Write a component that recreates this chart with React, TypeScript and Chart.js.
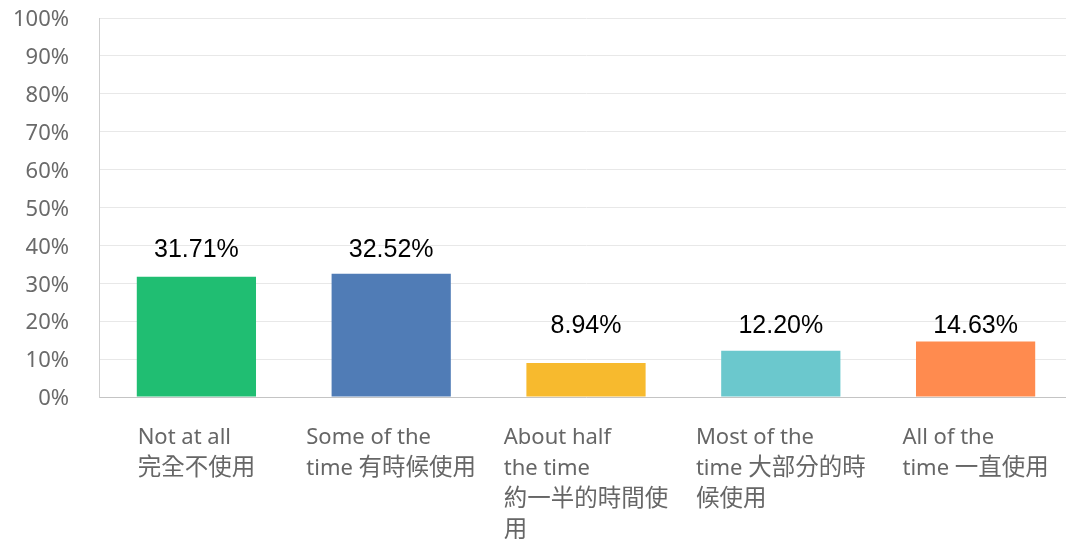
import React, { useEffect, useRef } from "react";
import { Chart, registerables } from "chart.js";

Chart.register(...registerables);

const categories: string[][] = [
  ["Not at all", "完全不使用"],
  ["Some of the", "time 有時候使用"],
  ["About half", "the time", "約一半的時間使", "用"],
  ["Most of the", "time 大部分的時", "候使用"],
  ["All of the", "time 一直使用"],
];
const values: number[] = [31.71, 32.52, 8.94, 12.2, 14.63];
const valueLabels: string[] = ["31.71%", "32.52%", "8.94%", "12.20%", "14.63%"];
const barColors: string[] = ["#20BE72", "#507CB6", "#F7BA2E", "#6BC8CD", "#FF8B4F"];
const yTicks: number[] = [0, 10, 20, 30, 40, 50, 60, 70, 80, 90, 100];

const FONT = "'Noto Sans', 'Noto Sans CJK TC', sans-serif";
const LATIN_FONT = "22px 'Noto Sans', sans-serif";
const CJK_FONT = "23.5px 'Noto Sans CJK TC', sans-serif";

const dataLabelPlugin = {
  id: "dataLabels",
  afterDatasetsDraw(chart: any) {
    const ctx = chart.ctx;
    const meta = chart.getDatasetMeta(0);
    const yScale = chart.scales.y;
    ctx.save();
    ctx.font = "25px 'Liberation Sans', Arial, sans-serif";
    ctx.fillStyle = "#000";
    ctx.textAlign = "center";
    ctx.textBaseline = "alphabetic";
    meta.data.forEach((bar: any, i: number) => {
      const anchor = Math.ceil((values[i] + 5) / 10) * 10;
      const y = yScale.getPixelForValue(anchor) + 12;
      ctx.fillText(valueLabels[i], bar.x, y);
    });
    ctx.restore();
  },
};

function splitRuns(line: string): { text: string; cjk: boolean }[] {
  const runs: { text: string; cjk: boolean }[] = [];
  for (const ch of line) {
    const cjk = /[\u3000-\u9fff\uff00-\uffef]/.test(ch);
    const last = runs[runs.length - 1];
    if (last && last.cjk === cjk) last.text += ch;
    else runs.push({ text: ch, cjk });
  }
  return runs;
}

// Category labels: text block centred under the bar, lines left-aligned inside it
const categoryLabelPlugin = {
  id: "categoryLabels",
  afterDraw(chart: any) {
    const ctx = chart.ctx;
    const xScale = chart.scales.x;
    ctx.save();
    ctx.fillStyle = "#666666";
    ctx.textAlign = "left";
    ctx.textBaseline = "alphabetic";
    const measure = (line: string) =>
      splitRuns(line).reduce((s, r) => {
        ctx.font = r.cjk ? CJK_FONT : LATIN_FONT;
        return s + ctx.measureText(r.text).width;
      }, 0);
    categories.forEach((lines, i) => {
      const cx = xScale.getPixelForValue(i);
      const w = Math.max(...lines.map(measure));
      const left = cx - w / 2;
      lines.forEach((line, j) => {
        let x = left;
        const y = xScale.top + 47 + j * 31;
        splitRuns(line).forEach((r) => {
          ctx.font = r.cjk ? CJK_FONT : LATIN_FONT;
          ctx.fillText(r.text, x, y);
          x += ctx.measureText(r.text).width;
        });
      });
    });
    ctx.restore();
  },
};

export default function App() {
  const ref = useRef<HTMLCanvasElement | null>(null);
  useEffect(() => {
    if (!ref.current) return;
    const chart = new Chart(ref.current, {
      type: "bar",
      data: {
        labels: categories,
        datasets: [
          {
            data: values,
            backgroundColor: barColors,
            borderWidth: 0,
            barPercentage: 0.612,
            categoryPercentage: 1,
          },
        ],
      },
      options: {
        animation: false,
        responsive: false,
        maintainAspectRatio: false,
        layout: { padding: { top: 18, right: 1, left: 0, bottom: 0 } },
        plugins: { legend: { display: false }, tooltip: { enabled: false } },
        scales: {
          x: {
            grid: { display: false, drawTicks: false },
            border: { display: true, color: "#c4c4c4", width: 1 },
            ticks: { display: false },
            afterFit(scale: any) {
              scale.height = 142;
              scale.paddingLeft = 0;
              scale.paddingRight = 0;
            },
          },
          y: {
            min: 0,
            max: 100,
            afterBuildTicks(scale: any) {
              scale.ticks = yTicks.map((v) => ({ value: v }));
            },
            grid: { color: "#e8e8e8", lineWidth: 1, drawTicks: false },
            border: { display: true, color: "#cfcfcf", width: 1 },
            ticks: {
              padding: 30,
              labelOffset: 2,
              color: "#6a6a6a",
              font: { family: FONT, size: 22 },
              callback: (v: any) => v + "%",
            },
            afterFit(scale: any) {
              scale.width = 99;
              scale.paddingTop = 0;
              scale.paddingBottom = 0;
            },
          },
        },
      },
      plugins: [dataLabelPlugin, categoryLabelPlugin],
    });
    return () => chart.destroy();
  }, []);
  return (
    <div
      style={{
        position: "absolute",
        left: 0,
        top: 0,
        width: 1066,
        height: 539,
        overflow: "hidden",
        background: "#fff",
      }}
    >
      <canvas ref={ref} width={1074} height={539} style={{ display: "block" }} />
    </div>
  );
}
